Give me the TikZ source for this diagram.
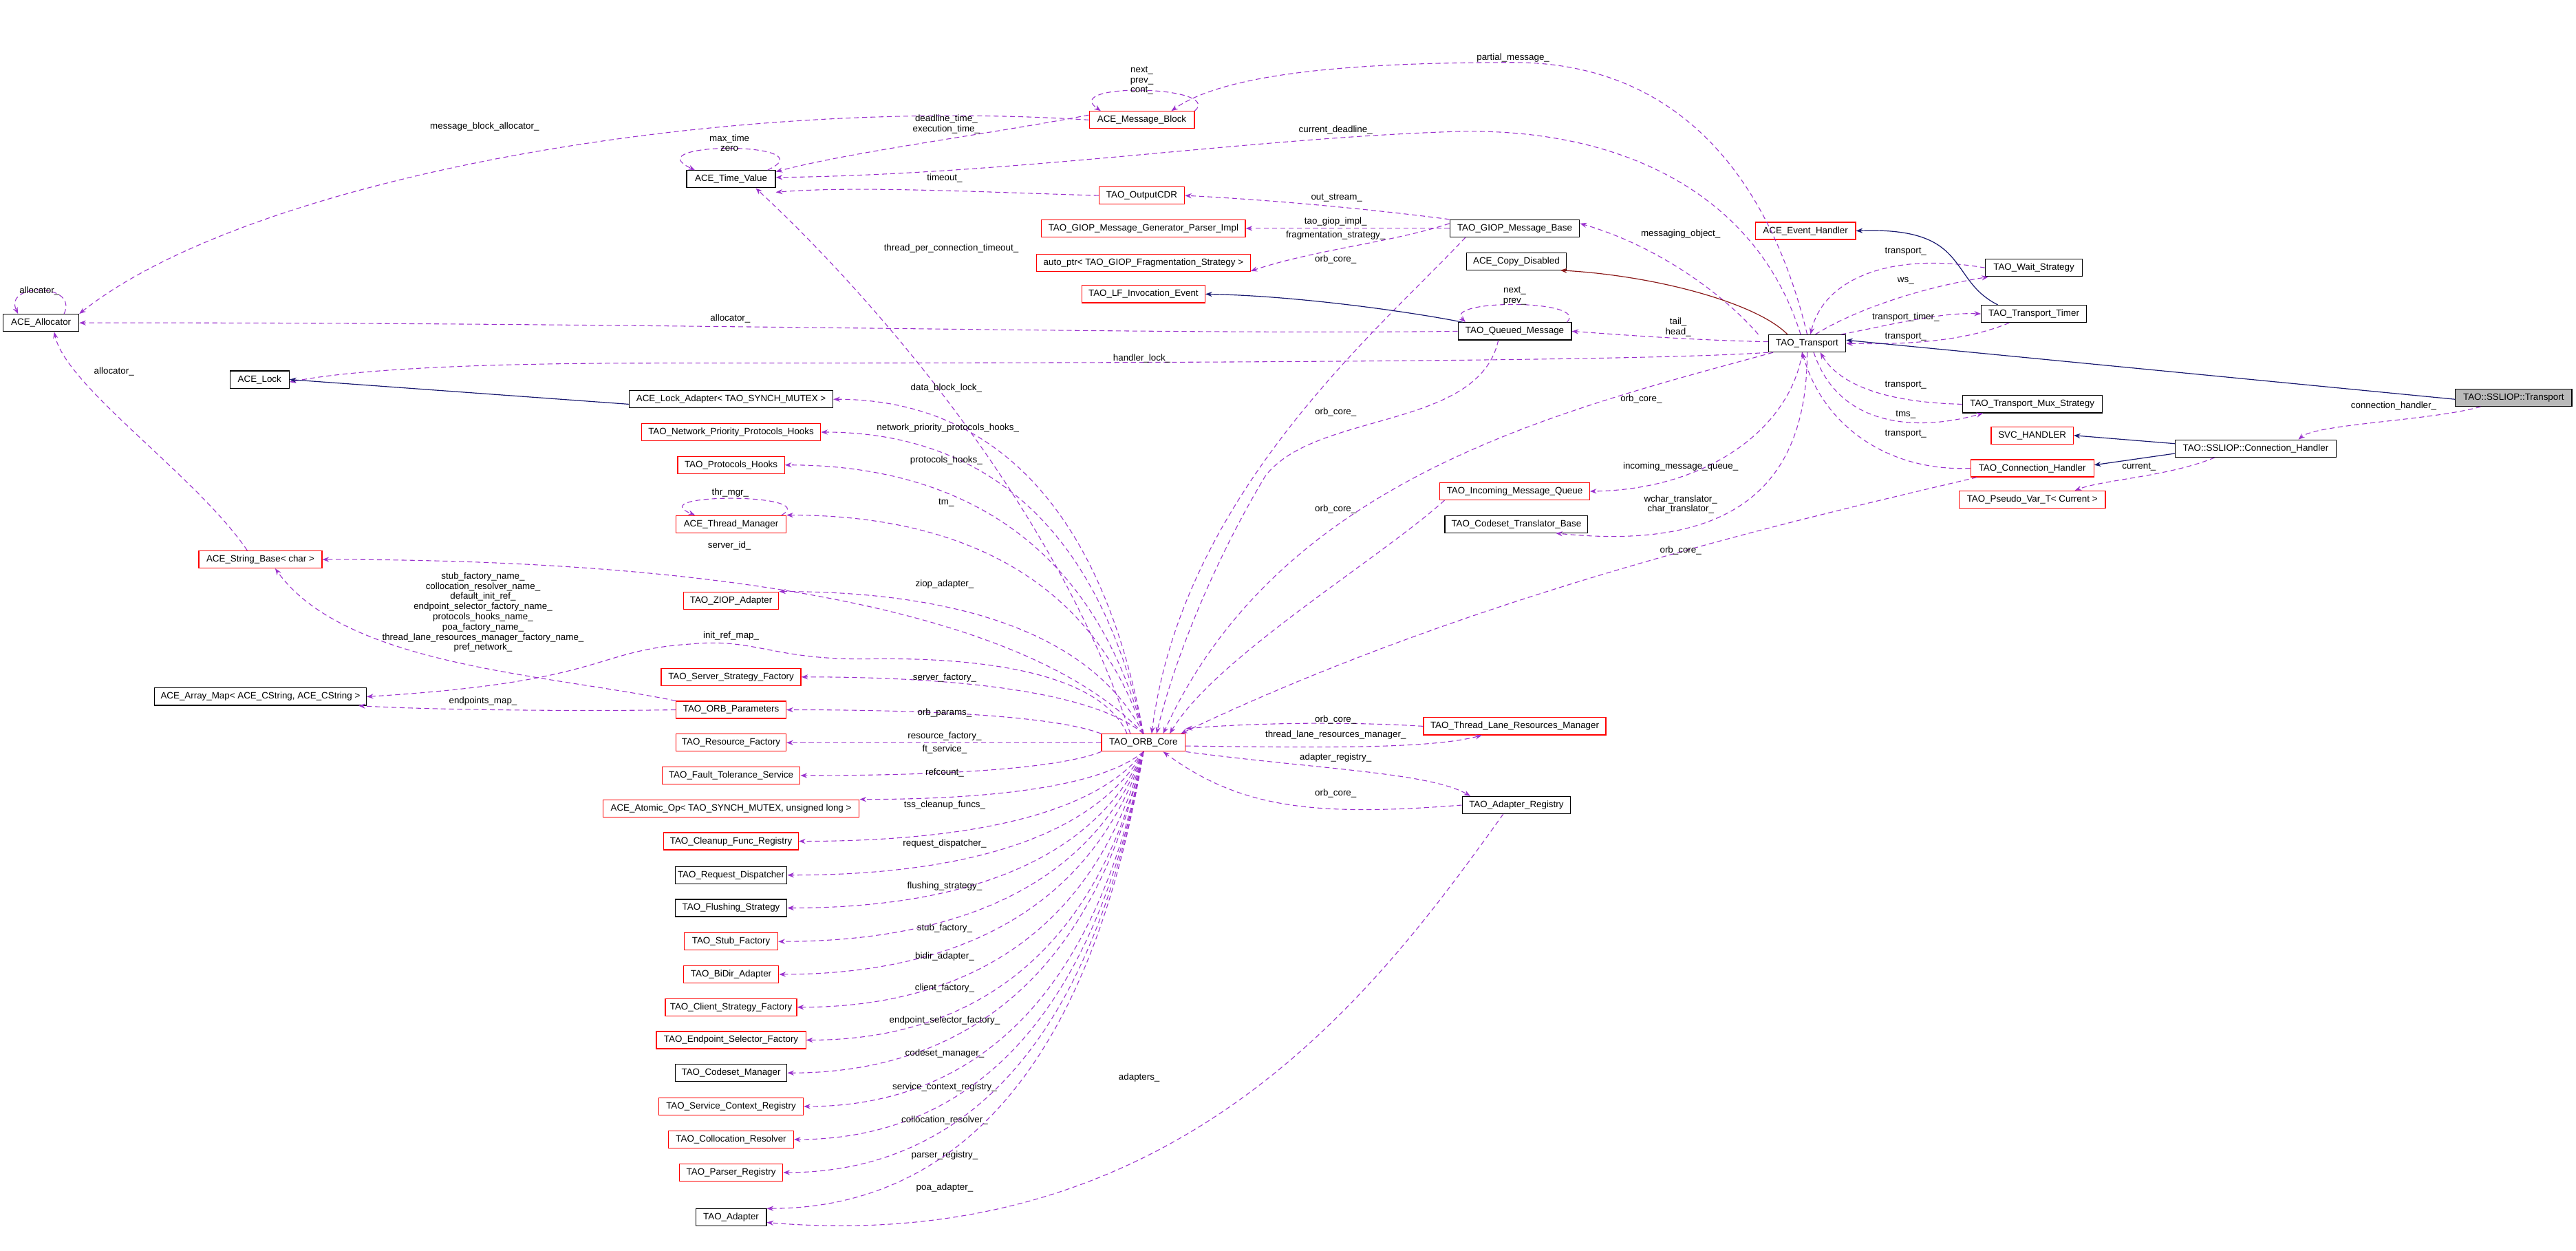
\documentclass[tikz,border=0pt]{standalone}
\usepackage{fontspec}
\setmainfont{Liberation Sans}
\usetikzlibrary{arrows.meta,calc}
\definecolor{mp}{HTML}{9A32CD}
\definecolor{nv}{HTML}{191970}
\definecolor{dr}{HTML}{8B1A1A}
\newcommand{\orbfan}[2]{\draw[mem] let \p1=(#1), \p2=(#2) in (\p1) .. controls ({\x1-0.15*(\x1-\x2)},{\y1+0.75*(\y2-\y1)}) and ({\x2+0.45*(\x1-\x2)},{\y2}) .. (\p2);}
\begin{document}
\begin{tikzpicture}[x=1pt,y=-1pt,
 font=\fontsize{5.6}{6.3}\selectfont,
 cls/.style={draw=black,line width=0.5pt,inner sep=0pt,minimum height=10.5pt,fill=white},
 rcls/.style={cls,draw=red},
 lbl/.style={inner sep=0pt,align=center,font=\fontsize{5.6}{6.2}\selectfont},
 mem/.style={draw=mp,dash pattern=on 3pt off 2pt,line width=0.45pt,-{Stealth[length=4pt,width=3pt]}},
 inh/.style={draw=nv,line width=0.5pt,-{Stealth[length=4pt,width=3pt]}},
 inhr/.style={draw=dr,line width=0.5pt,-{Stealth[length=4pt,width=3pt]}}]
\useasboundingbox[fill=white] (0,0) rectangle (1568,761);
% nodes
\node[cls,minimum width=46pt] (alloc) at (25,196.5) {ACE\_Allocator};
\node[cls,minimum width=54pt] (tv) at (445,109) {ACE\_Time\_Value};
\node[rcls,minimum width=64pt] (mb) at (695,73) {ACE\_Message\_Block};
\node[rcls,minimum width=52pt] (cdr) at (695,119) {TAO\_OutputCDR};
\node[rcls,minimum width=124pt] (gpi) at (696,139) {TAO\_GIOP\_Message\_Generator\_Parser\_Impl};
\node[rcls,minimum width=130pt] (ap) at (696,160) {auto\_ptr< TAO\_GIOP\_Fragmentation\_Strategy >};
\node[rcls,minimum width=75pt] (lfie) at (696,179) {TAO\_LF\_Invocation\_Event};
\node[cls,minimum width=79pt] (gmb) at (922,139) {TAO\_GIOP\_Message\_Base};
\node[cls,minimum width=61pt] (cd) at (923,159) {ACE\_Copy\_Disabled};
\node[cls,minimum width=69pt] (qm) at (922,201.6) {TAO\_Queued\_Message};
\node[rcls,minimum width=91pt] (imq) at (922,299) {TAO\_Incoming\_Message\_Queue};
\node[cls,minimum width=87pt] (ctb) at (923,319) {TAO\_Codeset\_Translator\_Base};
\node[rcls,minimum width=61pt] (eh) at (1099,140.5) {ACE\_Event\_Handler};
\node[cls,minimum width=59pt] (ws) at (1238,163) {TAO\_Wait\_Strategy};
\node[cls,minimum width=64pt] (tt) at (1238,191) {TAO\_Transport\_Timer};
\node[cls,minimum width=47pt] (tr) at (1100,209) {TAO\_Transport};
\node[cls,minimum width=71pt,fill=gray!55] (ssltr) at (1530,242) {TAO::SSLIOP::Transport};
\node[cls,minimum width=85pt] (tms) at (1237,246) {TAO\_Transport\_Mux\_Strategy};
\node[rcls,minimum width=50pt] (svc) at (1237,265) {SVC\_HANDLER};
\node[cls,minimum width=98pt] (sslch) at (1373,273) {TAO::SSLIOP::Connection\_Handler};
\node[rcls,minimum width=75pt] (tch) at (1237,285) {TAO\_Connection\_Handler};
\node[rcls,minimum width=89pt] (pv) at (1237,304) {TAO\_Pseudo\_Var\_T< Current >};
\node[cls,minimum width=36pt] (lock) at (158,231) {ACE\_Lock};
\node[cls,minimum width=124pt] (la) at (445,243) {ACE\_Lock\_Adapter< TAO\_SYNCH\_MUTEX >};
\node[rcls,minimum width=109pt] (nph) at (445,263) {TAO\_Network\_Priority\_Protocols\_Hooks};
\node[rcls,minimum width=65pt] (ph) at (445,283) {TAO\_Protocols\_Hooks};
\node[rcls,minimum width=67pt] (tm) at (445,319) {ACE\_Thread\_Manager};
\node[rcls,minimum width=75pt] (sb) at (158.5,340.5) {ACE\_String\_Base< char >};
\node[cls,minimum width=129pt] (am) at (158.5,424) {ACE\_Array\_Map< ACE\_CString, ACE\_CString >};
\node[rcls,minimum width=58pt] (ziop) at (445,365.5) {TAO\_ZIOP\_Adapter};
\node[rcls,minimum width=85pt] (ssf) at (445,412) {TAO\_Server\_Strategy\_Factory};
\node[rcls,minimum width=67pt] (op) at (445,432) {TAO\_ORB\_Parameters};
\node[rcls,minimum width=67pt] (rf) at (445,452) {TAO\_Resource\_Factory};
\node[rcls,minimum width=84pt] (fts) at (445,472) {TAO\_Fault\_Tolerance\_Service};
\node[rcls,minimum width=156pt] (ao) at (445,492) {ACE\_Atomic\_Op< TAO\_SYNCH\_MUTEX, unsigned long >};
\node[rcls,minimum width=82pt] (cfr) at (445,512) {TAO\_Cleanup\_Func\_Registry};
\node[cls,minimum width=68pt] (rd) at (445,532.6) {TAO\_Request\_Dispatcher};
\node[cls,minimum width=68pt] (fs) at (445,552.6) {TAO\_Flushing\_Strategy};
\node[rcls,minimum width=57pt] (sf) at (445,573) {TAO\_Stub\_Factory};
\node[rcls,minimum width=58pt] (bda) at (445,593) {TAO\_BiDir\_Adapter};
\node[rcls,minimum width=80pt] (csf) at (445,613) {TAO\_Client\_Strategy\_Factory};
\node[rcls,minimum width=91pt] (esf) at (445,633) {TAO\_Endpoint\_Selector\_Factory};
\node[cls,minimum width=68pt] (cm) at (445,653) {TAO\_Codeset\_Manager};
\node[rcls,minimum width=88pt] (scr) at (445,673.4) {TAO\_Service\_Context\_Registry};
\node[rcls,minimum width=76pt] (cr) at (445,693.5) {TAO\_Collocation\_Resolver};
\node[rcls,minimum width=63pt] (pr) at (445,713.6) {TAO\_Parser\_Registry};
\node[cls,minimum width=43pt] (ad) at (445,741) {TAO\_Adapter};
\node[rcls,minimum width=51pt] (orb) at (696,452) {TAO\_ORB\_Core};
\node[rcls,minimum width=111pt] (tlrm) at (922,442) {TAO\_Thread\_Lane\_Resources\_Manager};
\node[cls,minimum width=66pt] (ar) at (923,490) {TAO\_Adapter\_Registry};
% top area edges
\draw[mem] ([xshift=14pt]alloc.north) .. controls (48,172) and (2,172) .. ([xshift=-14pt]alloc.north);
\node[lbl] (L1) at (24,177) {allocator\_};
\draw[mem] (mb.west) .. controls (430,58) and (150,110) .. (alloc.north east);
\node[lbl] (L2) at (295,77) {message\_block\_allocator\_};
\draw[mem] (mb.north east) .. controls (745,52) and (645,50) .. ([xshift=-25pt]mb.north);
\node[lbl] (L3) at (695,49) {next\_\\prev\_\\cont\_};
\draw[mem] (tr.north) .. controls (1080,120) and (1030,38) .. (921,38) .. controls (820,38) and (745,45) .. ([xshift=18pt]mb.north);
\node[lbl] (L4) at (921,35) {partial\_message\_};
\draw[mem] ([xshift=-5pt]tv.north east) .. controls (505,86) and (385,86) .. ([xshift=-22pt]tv.north);
\node[lbl] (L5) at (444,87) {max\_time\\zero};
\draw[mem] ([yshift=3pt]mb.west) .. controls (600,82) and (520,92) .. ([yshift=-1pt]tv.north east);
\node[lbl] (L6) at (576,75.5) {deadline\_time\_\\execution\_time\_};
\draw[mem] ([xshift=-4pt]tr.north) .. controls (1070,120) and (990,78) .. (888,80) .. controls (760,84) and (620,106) .. ([yshift=1pt]tv.east);
\node[lbl] (L7) at (813,79) {current\_deadline\_};
\draw[mem] (cdr.west) .. controls (600,117) and (520,113) .. ([yshift=-2.5pt]tv.south east);
\node[lbl] (L8) at (575,108.4) {timeout\_};
\draw[mem] ([xshift=-8pt]orb.north) .. controls (640,300) and (520,170) .. ([xshift=15pt]tv.south);
\node[lbl] (L9) at (579,151) {thread\_per\_connection\_timeout\_};
\draw[mem] (gmb.north west) .. controls (840,128) and (780,122) .. (cdr.east);
\node[lbl] (L10) at (813.6,120.6) {out\_stream\_};
\draw[mem] (gmb.west) -- (gpi.east);
\node[lbl] (L11) at (813,135) {tao\_giop\_impl\_};
\draw[mem] ([yshift=3pt]gmb.west) .. controls (850,147) and (800,152) .. ([yshift=-5pt]ap.east);
\node[lbl] (L12) at (813,143.3) {fragmentation\_strategy\_};
\draw[mem] ([xshift=-30pt]gmb.south) .. controls (840,200) and (720,300) .. ([xshift=5pt]orb.north);
\node[lbl] (L13) at (813,158) {orb\_core\_};
\draw[mem] ([xshift=-6pt]tr.north west) .. controls (1050,180) and (1010,150) .. ([yshift=3pt]gmb.east);
\node[lbl] (L14) at (1023,142.5) {messaging\_object\_};
\draw[inhr] ([xshift=-12pt]tr.north) .. controls (1070,185) and (1010,168) .. ([xshift=-4pt]cd.south east);
\draw[inh] ([xshift=3pt]qm.north west) .. controls (860,190) and (790,180) .. (lfie.east);
\draw[mem] ([xshift=-3pt]qm.north east) .. controls (968,182) and (878,182) .. ([xshift=-30pt]qm.north);
\node[lbl] (L15) at (922,180) {next\_\\prev\_};
\draw[mem] (qm.west) .. controls (700,204) and (400,196) .. (alloc.east);
\node[lbl] (L16) at (444.5,194) {allocator\_};
\draw[mem] ([yshift=1pt]tr.west) .. controls (1030,207) and (990,204) .. (qm.east);
\node[lbl] (L17) at (1021.5,199) {tail\_\\head\_};
\draw[mem] (tr.south west) .. controls (1000,220) and (700,221) .. (400,221) .. controls (250,221) and (200,228) .. ([yshift=-1.5pt]lock.east);
\node[lbl] (L18) at (695,218) {handler\_lock\_};
\draw[inh] ([yshift=-3pt]la.west) -- (lock.east);
\draw[mem] ([xshift=-10pt]qm.south) .. controls (900,262) and (800,250) .. (770,290) .. controls (740,340) and (715,400) .. ([xshift=8pt]orb.north);
\node[lbl] (L19) at (813,251) {orb\_core\_};
\draw[mem] ([xshift=3pt]tr.south west) .. controls (950,250) and (780,290) .. ([xshift=12pt]orb.north);
\node[lbl] (L20) at (999,243) {orb\_core\_};
\draw[mem] ([xshift=-3pt]tr.south) .. controls (1090,260) and (1040,298) .. (imq.east);
\node[lbl] (L21) at (1023,284) {incoming\_message\_queue\_};
\draw[mem] (tr.south) .. controls (1100,300) and (1050,335) .. ([xshift=24pt]ctb.south);
\node[lbl] (L22) at (1023,307) {wchar\_translator\_\\char\_translator\_};
\draw[mem] ([xshift=3pt]imq.south west) .. controls (840,340) and (740,400) .. ([xshift=16pt]orb.north);
\node[lbl] (L23) at (813,310) {orb\_core\_};
\draw[mem] ([xshift=4pt]tch.south west) .. controls (1100,315) and (900,360) .. ([xshift=-3pt]orb.north east);
\node[lbl] (L24) at (1023,335) {orb\_core\_};
% right area
\draw[mem] (ws.west) .. controls (1150,153) and (1110,170) .. ([xshift=2pt]tr.north);
\node[lbl] (L25) at (1160,153) {transport\_};
\draw[mem] ([xshift=5pt]tr.north) .. controls (1130,188) and (1170,175) .. ([xshift=2pt]ws.south west);
\node[lbl] (L26) at (1160,171) {ws\_};
\draw[mem] ([xshift=-3pt]tr.north east) .. controls (1150,198) and (1180,190) .. (tt.west);
\node[lbl] (L27) at (1160,193) {transport\_timer\_};
\draw[mem] ([xshift=-15pt]tt.south) .. controls (1200,206) and (1170,210) .. (tr.east);
\node[lbl] (L28) at (1160,205) {transport\_};
\draw[inh] ([xshift=-22pt]tt.north) .. controls (1185,170) and (1200,138) .. (eh.east);
\draw[inh] ([yshift=-1pt]ssltr.west) -- ([yshift=2pt]tr.east);
\draw[mem] (tms.west) .. controls (1150,245) and (1120,235) .. ([xshift=8pt]tr.south);
\node[lbl] (L29) at (1160,234.5) {transport\_};
\draw[mem] ([xshift=4pt]tr.south) .. controls (1120,262) and (1170,262) .. ([xshift=-30pt]tms.south);
\node[lbl] (L30) at (1160,252.5) {tms\_};
\draw[mem] (tch.west) .. controls (1150,287) and (1110,260) .. ([xshift=-3pt]tr.south);
\node[lbl] (L31) at (1160,264) {transport\_};
\draw[inh] ([yshift=3pt]sslch.west) -- (svc.east);
\draw[inh] ([yshift=-3pt]sslch.west) -- ([yshift=2pt]tch.east);
\draw[mem] ([xshift=-25pt]sslch.south) .. controls (1320,290) and (1280,292) .. ([xshift=26pt]pv.north);
\node[lbl] (L32) at (1302,284) {current\_};
\draw[mem] ([xshift=-20pt]ssltr.south) .. controls (1480,256) and (1410,258) .. ([xshift=26pt]sslch.north);
\node[lbl] (L33) at (1457,247) {connection\_handler\_};
% ORB core fan
\orbfan{orb.north}{la.east}
\node[lbl] (L34) at (576,236) {data\_block\_lock\_};
\orbfan{orb.north}{nph.east}
\node[lbl] (L35) at (577,260.7) {network\_priority\_protocols\_hooks\_};
\orbfan{orb.north}{ph.east}
\node[lbl] (L36) at (576,280) {protocols\_hooks\_};
\orbfan{orb.north}{tm.north east}
\node[lbl] (L37) at (576,306) {tm\_};
\draw[mem] ([xshift=-3pt]tm.north east) .. controls (500,300) and (390,300) .. ([xshift=-22pt]tm.north);
\node[lbl] (L38) at (444.5,300) {thr\_mgr\_};
\orbfan{orb.north}{sb.east}
\node[lbl] (L39) at (444,332) {server\_id\_};
\orbfan{orb.north}{ziop.north east}
\node[lbl] (L40) at (575,355.5) {ziop\_adapter\_};
\draw[mem] ([xshift=-10pt]orb.north) .. controls (670,410) and (600,400) .. (530,401) .. controls (470,402) and (460,388) .. (420,392) .. controls (360,396) and (370,415) .. (am.east);
\node[lbl] (L41) at (445,387) {init\_ref\_map\_};
\orbfan{orb.north}{ssf.east}
\node[lbl] (L42) at (575,412.5) {server\_factory\_};
\orbfan{orb.north west}{op.east}
\node[lbl] (L43) at (575,434) {orb\_params\_};
\draw[mem] (orb.west) -- (rf.east);
\node[lbl] (L44) at (575,448) {resource\_factory\_};
\orbfan{orb.south west}{fts.east}
\node[lbl] (L45) at (575,456) {ft\_service\_};
\orbfan{orb.south}{ao.north east}
\node[lbl] (L46) at (575,470.4) {refcount\_};
\orbfan{orb.south}{cfr.east}
\node[lbl] (L47) at (575,490) {tss\_cleanup\_funcs\_};
\orbfan{orb.south}{rd.east}
\node[lbl] (L48) at (575,513.6) {request\_dispatcher\_};
\orbfan{orb.south}{fs.east}
\node[lbl] (L49) at (575,539.5) {flushing\_strategy\_};
\orbfan{orb.south}{sf.east}
\node[lbl] (L50) at (575,565) {stub\_factory\_};
\orbfan{orb.south}{bda.east}
\node[lbl] (L51) at (575,582.3) {bidir\_adapter\_};
\orbfan{orb.south}{csf.east}
\node[lbl] (L52) at (575,601.2) {client\_factory\_};
\orbfan{orb.south}{esf.east}
\node[lbl] (L53) at (575,620.9) {endpoint\_selector\_factory\_};
\orbfan{orb.south}{cm.east}
\node[lbl] (L54) at (575,641) {codeset\_manager\_};
\orbfan{orb.south}{scr.east}
\node[lbl] (L55) at (575,661.6) {service\_context\_registry\_};
\orbfan{orb.south}{cr.east}
\node[lbl] (L56) at (575,682) {collocation\_resolver\_};
\orbfan{orb.south}{pr.east}
\node[lbl] (L57) at (575,703) {parser\_registry\_};
\orbfan{orb.south}{ad.north east}
\node[lbl] (L58) at (575,723) {poa\_adapter\_};
\draw[mem] ([xshift=-8pt]ar.south) .. controls (840,600) and (720,765) .. ([yshift=-3pt]ad.east);
\node[lbl] (L59) at (693.4,655.9) {adapters\_};
\draw[mem] ([yshift=-2pt]orb.east) .. controls (800,455) and (870,456) .. ([xshift=-20pt]tlrm.south);
\node[lbl] (L60) at (813,447.5) {thread\_lane\_resources\_manager\_};
\draw[mem] (tlrm.west) .. controls (820,439) and (760,440) .. ([yshift=3pt]orb.north east);
\node[lbl] (L61) at (813,438) {orb\_core\_};
\draw[mem] (orb.south east) .. controls (800,468) and (870,470) .. ([xshift=-28pt]ar.north);
\node[lbl] (L62) at (813,461) {adapter\_registry\_};
\draw[mem] (ar.west) .. controls (800,497) and (755,492) .. ([xshift=12pt]orb.south);
\node[lbl] (L63) at (813,482.7) {orb\_core\_};
% left area
\draw[mem] ([xshift=-8pt]sb.north) .. controls (120,290) and (40,235) .. ([xshift=8pt]alloc.south);
\node[lbl] (L64) at (69.4,226) {allocator\_};
\draw[mem] (op.north west) .. controls (330,410) and (210,405) .. ([xshift=9pt]sb.south);
\node[lbl] (L65) at (294,372.6) {stub\_factory\_name\_\\collocation\_resolver\_name\_\\default\_init\_ref\_\\endpoint\_selector\_factory\_name\_\\protocols\_hooks\_name\_\\poa\_factory\_name\_\\thread\_lane\_resources\_manager\_factory\_name\_\\pref\_network\_};
\draw[mem] (op.west) .. controls (350,433) and (260,432) .. ([xshift=-5pt]am.south east);
\node[lbl] (L66) at (294,426.7) {endpoints\_map\_};
\end{tikzpicture}
\end{document}
